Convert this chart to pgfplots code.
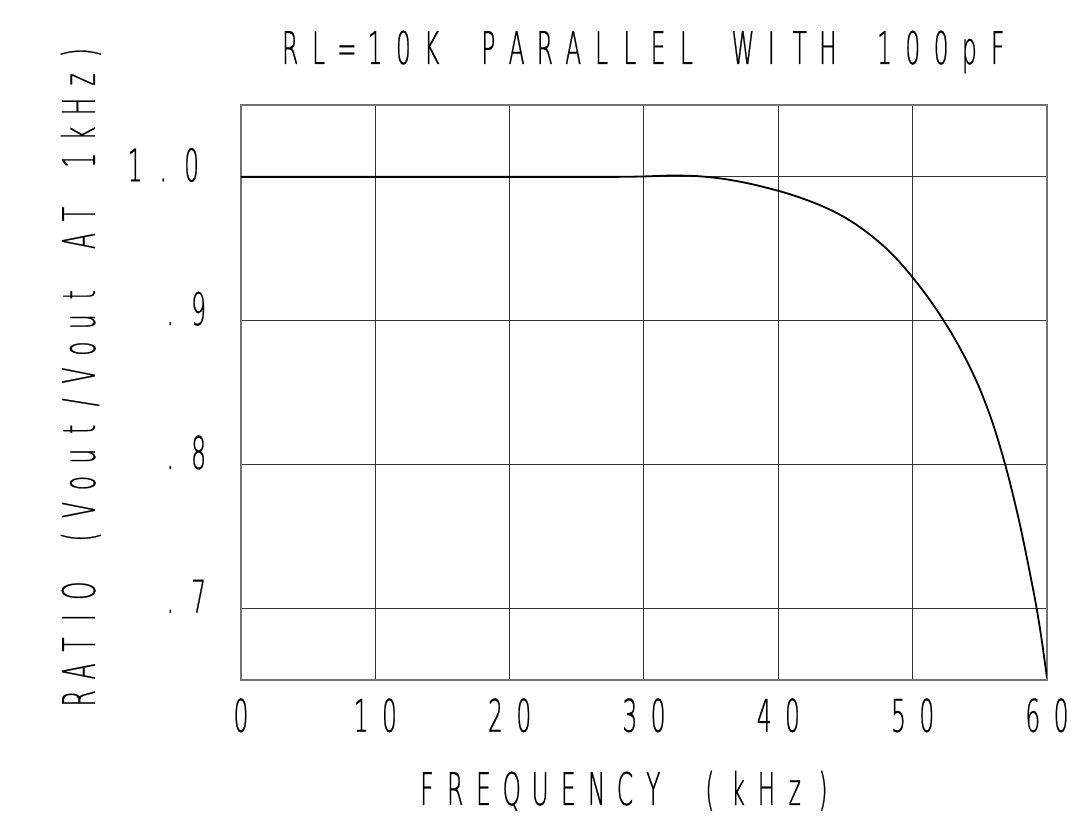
\documentclass[border=0pt]{standalone}
\usepackage{fontspec}
\IfFontExistsTF{DejaVuSans-ExtraLight.ttf}{%
  \setmainfont{DejaVuSans-ExtraLight.ttf}[FakeStretch=0.52, FakeBold=0.5]%
}{%
  \IfFontExistsTF{Lato Hairline}{%
    \setmainfont{Lato Hairline}[FakeStretch=0.55, FakeBold=1.0]%
  }{%
    \setmainfont{DejaVu Sans}[FakeStretch=0.52]%
  }%
}
\usepackage{pgfplots}
\pgfplotsset{compat=1.18}
\ExplSyntaxOn
\dim_new:N \l_mono_pitch_dim
\dim_set:Nn \l_mono_pitch_dim {28.3pt}
\NewDocumentCommand \mono { O{28.3pt} m } { \dim_set:Nn \l_mono_pitch_dim {#1} \tl_map_inline:nn {#2} { \makebox[\l_mono_pitch_dim][c]{##1} } }
\ExplSyntaxOff
\pgfplotstableread{
x y
0 1.0
25 1.0
28 1.0
30 1.0003
32 1.0009
34 1.0005
36 0.9985
38 0.9950
40 0.9903
41 0.9875
42 0.9843
43 0.9807
44 0.9765
45 0.9715
46 0.9655
47 0.9585
48 0.9505
49 0.9410
50 0.9300
51 0.9180
52 0.9045
53 0.8895
54 0.8725
55 0.8525
56 0.8275
57 0.7960
58 0.7575
59 0.7115
59.5 0.6845
60 0.6515
}\curve
\newcommand{\bigf}{\fontsize{45}{50}\selectfont}
\begin{document}
\begin{tikzpicture}[x=1pt,y=1pt]
\useasboundingbox (-241,-136) rectangle (831,680);
\begin{axis}[
  at={(0,0)}, anchor=south west,
  width=806pt, height=575pt, scale only axis,
  xmin=0, xmax=60, ymin=0.65, ymax=1.05,
  xtick={0,10,20,30,40,50,60},
  xticklabels={\mono{0},\mono{10},\mono{20},\mono{30},\mono{40},\mono{50},\mono{60}},
  ytick={0.7,0.8,0.9,1.0},
  yticklabels={\mono{.7}\kern-7pt,\mono{.8}\kern-7pt,\mono{.9}\kern-7pt,\mono{1.0}},
  /pgf/number format/assume math mode=true,
  grid=major,
  major grid style={black!80, line width=1pt},
  axis line style={black!55, line width=1.3pt},
  major tick length=0pt,
  tick style={draw=none},
  xticklabel style={font=\bigf, inner sep=0pt, anchor=base, yshift=-51.7pt},
  yticklabel style={font=\bigf, inner sep=0pt, anchor=base east, xshift=-35pt, yshift=-4.5pt},
  title={\mono{RL=10K~PARALLEL~WITH~100pF}},
  title style={font=\bigf, inner sep=0pt, anchor=base, at={(axis description cs:0.5,1)}, yshift=35pt},
  xlabel={\mono{FREQUENCY~(kHz)}},
  xlabel style={font=\bigf, inner sep=0pt, anchor=base, at={(axis description cs:0.5,0)}, yshift=-125pt, xshift=-19pt},
  ylabel={\mono[26.9pt]{RATIO~(Vout/Vout~AT~1kHz)}},
  ylabel style={font=\bigf, inner sep=0pt, anchor=base, at={(axis description cs:0,0.5)}, xshift=17pt, yshift=146pt},
]
\addplot[black, line width=1.8pt, smooth, tension=0.5] table[x=x,y=y] {\curve};
\end{axis}
\end{tikzpicture}
\end{document}
